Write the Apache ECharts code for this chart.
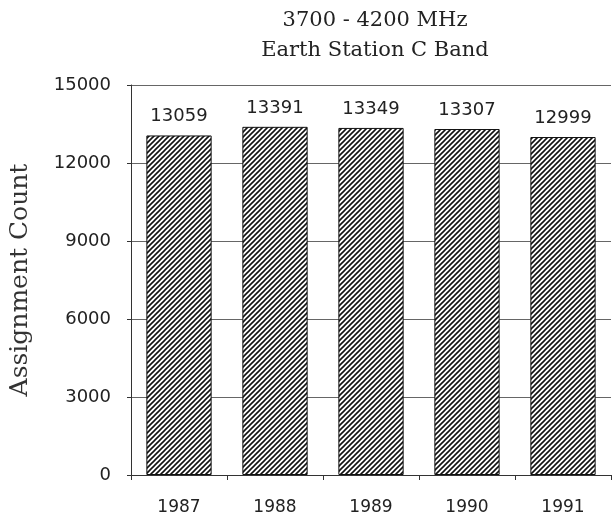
<!DOCTYPE html>
<html>
<head>
<meta charset="utf-8">
<script src="https://cdn.jsdelivr.net/npm/echarts@6/dist/echarts.min.js"></script>
<style>
  html, body { margin: 0; padding: 0; background: #fff; }
  #chart { width: 615px; height: 518px; }
</style>
</head>
<body>
<div id="chart"></div>
<script>
// Annual assignment counts, 3700-4200 MHz earth stations
const years = ['1987', '1988', '1989', '1990', '1991'];
const counts = [13059, 13391, 13349, 13307, 12999];
const yTicks = [0, 3000, 6000, 9000, 12000, 15000];

// Diagonal hatch fill for the bars
function hatch() {
  const s = 5;
  const c = document.createElement('canvas');
  c.width = s; c.height = s;
  const g = c.getContext('2d');
  g.fillStyle = '#fff';
  g.fillRect(0, 0, s, s);
  g.strokeStyle = '#111';
  g.lineWidth = 1.6;
  g.beginPath();
  g.moveTo(-1, s + 1); g.lineTo(s + 1, -1);
  g.moveTo(-1, 1); g.lineTo(1, -1);
  g.moveTo(s - 1, s + 1); g.lineTo(s + 1, s - 1);
  g.stroke();
  return c;
}

const serif = '"DejaVu Serif", "Liberation Serif", serif';
const sans = '"DejaVu Sans", sans-serif';

const chart = echarts.init(document.getElementById('chart'), null, { renderer: 'canvas' });
chart.setOption({
  animation: false,
  backgroundColor: '#fff',
  title: {
    text: '3700 - 4200 MHz\nEarth Station C Band',
    left: 370,
    top: 1,
    textAlign: 'center',
    textStyle: { fontFamily: serif, fontSize: 21, fontWeight: 'normal', color: '#222', lineHeight: 30 }
  },
  grid: { left: 125, right: 4, top: 85, bottom: 43, containLabel: false },
  xAxis: {
    type: 'category',
    data: years,
    axisLine: { lineStyle: { color: '#333', width: 1 } },
    axisTick: { show: true, length: 5, lineStyle: { color: '#333' } },
    axisLabel: { margin: 24, fontFamily: sans, fontSize: 17, color: '#222' }
  },
  yAxis: {
    type: 'value',
    min: yTicks[0],
    max: yTicks[yTicks.length - 1],
    interval: yTicks[1] - yTicks[0],
    name: 'Assignment Count',
    nameLocation: 'middle',
    nameGap: 98,
    nameTextStyle: { fontFamily: serif, fontSize: 25, color: '#333' },
    axisLine: { show: true, lineStyle: { color: '#333', width: 1 } },
    axisTick: { show: true, length: 4, lineStyle: { color: '#333' } },
    axisLabel: { margin: 20, fontFamily: sans, fontSize: 18, color: '#222', formatter: v => String(v) },
    splitLine: { show: true, lineStyle: { color: '#666', width: 1 } }
  },
  series: [{
    type: 'bar',
    data: counts,
    barWidth: '68%',
    itemStyle: {
      color: { image: hatch(), repeat: 'repeat' },
      borderColor: '#111',
      borderWidth: 1
    },
    label: {
      show: true,
      position: 'top',
      distance: 10,
      fontFamily: sans,
      fontSize: 18,
      color: '#222'
    }
  }]
});
</script>
</body>
</html>
